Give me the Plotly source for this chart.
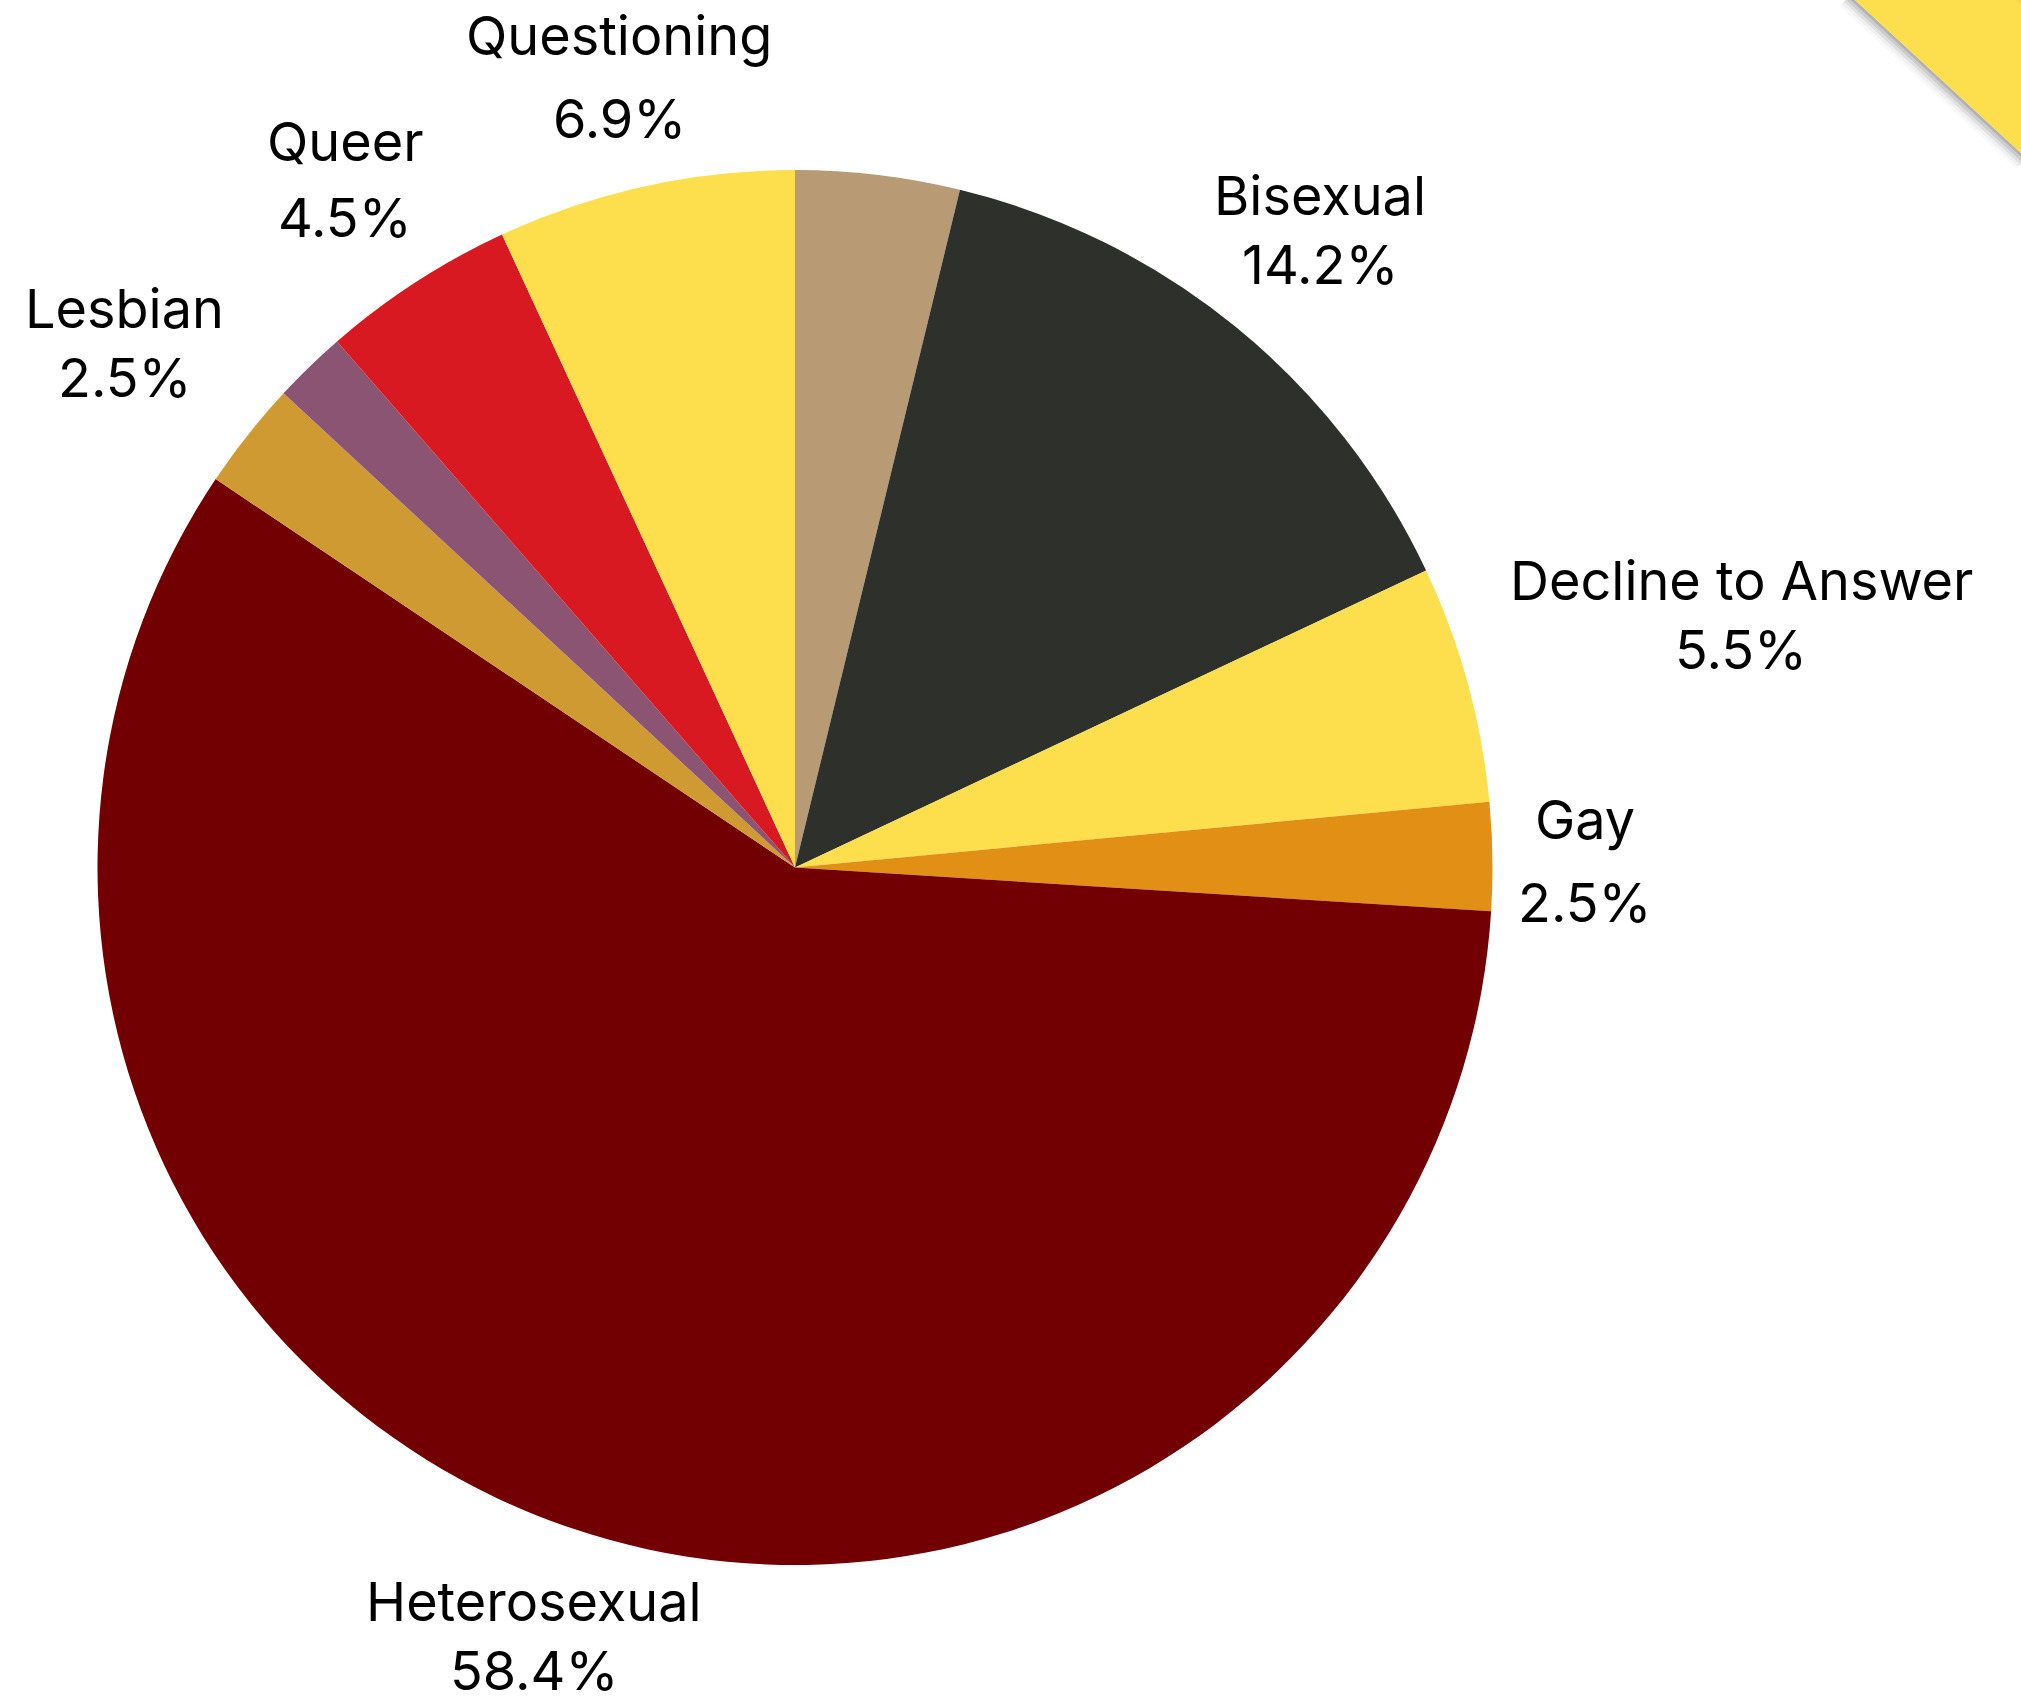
import math
import plotly.graph_objects as go

# ---------------- data ----------------
categories = ["Unlabeled 1", "Bisexual", "Decline to Answer", "Gay", "Heterosexual",
              "Lesbian", "Unlabeled 2", "Queer", "Questioning"]
values = [3.8, 14.2, 5.5, 2.5, 58.4, 2.5, 1.7, 4.5, 6.9]
show_label = [False, True, True, True, True, True, False, True, True]
colors = ["#B89A74", "#2E302B", "#FDDF4D", "#E18F15", "#720003",
          "#CF9A31", "#8A5472", "#D81921", "#FDDF4D"]

# ---------------- layout geometry ----------------
W, H = 2021, 1705
CX, CY, R = 795.0, 867.5, 697.5
FS = 54
FONT = "Inter, 'Open Sans', sans-serif"
BASELINE_SHIFT = 6.0  # glyphs sit above the centre of the text box
LINE_BOX = 1.25 * FS   # height of one annotation text box

fig = go.Figure()
fig.add_trace(go.Pie(
    labels=categories,
    values=values,
    sort=False,
    direction="clockwise",
    rotation=0,
    marker=dict(colors=colors, line=dict(width=0)),
    textinfo="none",
    hoverinfo="label+percent",
    domain=dict(x=[(CX - R) / W, (CX + R) / W], y=[1 - (CY + R) / H, 1 - (CY - R) / H]),
    showlegend=False,
))

# ---------------- outside labels computed from the values ----------------
def extra_gap(text):
    # the two label lines are stacked by their glyph extents
    if any(c in "gjpqy" for c in text):
        return 0.26 * FS
    if "Q" in text:
        return 0.13 * FS
    return 0.0

total = sum(values)
cum = 0.0
annotations = []
for name, v, show in zip(categories, values, show_label):
    mid = (cum + v / 2) / total * 2 * math.pi
    cum += v
    if not show:
        continue
    pct = f"{v / total * 100:.1f}%"
    vx, vy = math.sin(mid), -math.cos(mid)
    w = max(len(name), len(pct)) * 0.52 * FS
    gap = extra_gap(name)
    hh = 1.39 * FS + gap / 2
    cands = []
    if abs(vx) > 1e-6:
        cands.append(w / 2 / abs(vx))
    if abs(vy) > 1e-6:
        cands.append(hh / abs(vy))
    r = R + 36 + min(cands)
    px, py = CX + vx * r, CY + vy * r + BASELINE_SHIFT
    # keep the whole label inside the figure
    py = min(py, H - 2 - gap / 2 - LINE_BOX)
    py = max(py, 2 + gap / 2 + LINE_BOX)
    font = dict(family=FONT, size=FS, color="#000000")
    annotations.append(dict(
        x=px / W, y=1 - (py - gap / 2) / H, xref="paper", yref="paper",
        text=name, showarrow=False, xanchor="center", yanchor="bottom",
        align="center", font=font,
    ))
    annotations.append(dict(
        x=px / W, y=1 - (py + gap / 2) / H, xref="paper", yref="paper",
        text=pct, showarrow=False, xanchor="center", yanchor="top",
        align="center", font=font,
    ))

# ---------------- corner decoration ----------------
def P(x, y):
    return f"{x / W:.5f},{1 - y / H:.5f}"

x0, y0 = 1855.0, 0.0
x1, y1 = 2021.0, 153.0
dxe, dye = x1 - x0, y1 - y0
L = math.hypot(dxe, dye)
nx, ny = -dye / L, dxe / L  # normal pointing down-left
ux, uy = dxe / L, dye / L
ext = 120
shapes = []

def band(ax, ay, a, b, op):
    pts = [
        (ax + nx * a - ux * ext, ay + ny * a - uy * ext),
        (ax + nx * a + ux * ext, ay + ny * a + uy * ext),
        (ax + nx * b + ux * ext, ay + ny * b + uy * ext),
        (ax + nx * b - ux * ext, ay + ny * b - uy * ext),
    ]
    return dict(type="path", xref="paper", yref="paper",
                path="M " + " L ".join(P(*p) for p in pts) + " Z",
                fillcolor=f"rgba(0,0,0,{op})", line=dict(width=0), layer="above")

mx, my = (x0 + x1) / 2, (y0 + y1) / 2
for a, b, op in [(0, 3, 0.30), (3, 6, 0.20), (6, 9, 0.12), (9, 12, 0.06), (12, 15, 0.025)]:
    shapes.append(band(mx, my, a, b, op))
# ribbon body
tri = [(x0 - ux * ext, y0 - uy * ext), (x1 + 300, y0 - 300), (x1 + ux * ext, y1 + uy * ext)]
shapes.append(dict(type="path", xref="paper", yref="paper",
                   path="M " + " L ".join(P(*p) for p in tri) + " Z",
                   fillcolor="#FDDF4D", line=dict(width=0), layer="above"))
# faint shade of the ribbon's far edge at the very corner
ex, ey = 2033.0, 0.0
for a, b, op in [(0, 4, 0.10), (4, 8, 0.06), (8, 12, 0.03)]:
    shapes.append(band(ex, ey, a, b, op))

fig.update_layout(
    width=W, height=H,
    margin=dict(l=0, r=0, t=0, b=0),
    paper_bgcolor="white", plot_bgcolor="white",
    annotations=annotations,
    shapes=shapes,
    showlegend=False,
)

fig.write_html("out.html", config={"displayModeBar": False},
               post_script="document.body.style.margin='0px';")
